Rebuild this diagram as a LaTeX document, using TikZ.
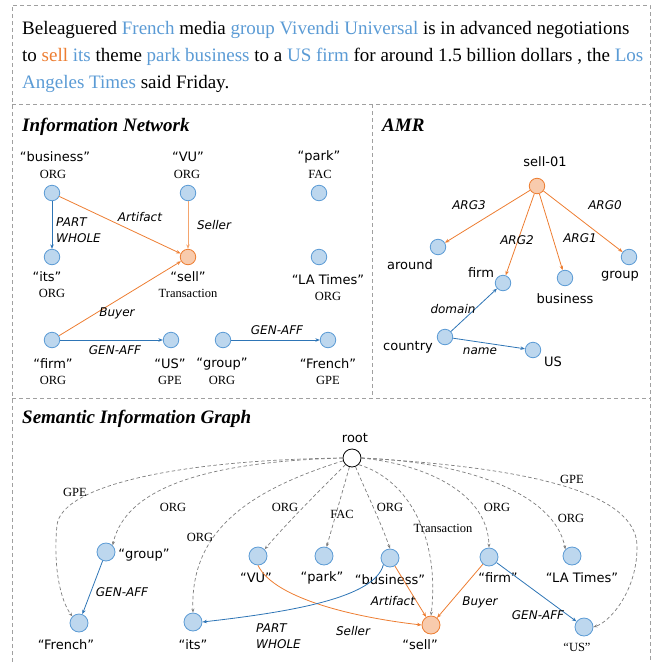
\documentclass[tikz,border=0pt]{standalone}
\usepackage{fontspec}
\setmainfont{Liberation Serif}
\setsansfont{DejaVu Sans}
\usetikzlibrary{arrows.meta}
\definecolor{entline}{RGB}{91,155,213}
\definecolor{entfill}{RGB}{189,215,238}
\definecolor{relblue}{RGB}{46,117,182}
\definecolor{evtline}{RGB}{237,125,49}
\definecolor{evtfill}{RGB}{248,203,173}
\definecolor{sellpeach}{RGB}{244,165,110}
\definecolor{depgray}{RGB}{125,125,125}
\definecolor{framegray}{RGB}{160,160,160}
\definecolor{wordblue}{RGB}{91,155,213}
\begin{document}
\begin{tikzpicture}[x=1pt,y=-1pt,
  ent/.style={circle,draw=entline,fill=entfill,line width=0.8pt,minimum size=15.5pt,inner sep=0pt},
  evt/.style={ent,draw=evtline,fill=evtfill},
  big/.style={minimum size=18pt},
  nl/.style={font=\sffamily\fontsize{13}{15}\selectfont,inner sep=0pt},
  tl/.style={font=\fontsize{12.5}{14}\selectfont,inner sep=0pt},
  el/.style={font=\sffamily\itshape\fontsize{12}{16}\selectfont,inner sep=0pt},
  hd/.style={font=\bfseries\itshape\fontsize{19}{22}\selectfont,anchor=base west,inner sep=0pt},
  sent/.style={font=\fontsize{19}{22}\selectfont,anchor=base west,inner sep=0pt},
  rel/.style={draw=relblue,line width=0.8pt,-{Stealth[length=4.5pt,width=3.5pt]}},
  arg/.style={rel,draw=evtline},
  dep/.style={draw=depgray,line width=0.7pt,dash pattern=on 3.5pt off 2.5pt,-{Stealth[length=4pt,width=3pt]}},
  frame/.style={draw=framegray,line width=0.8pt,dash pattern=on 4pt off 3pt}]
  \useasboundingbox (0,0) rectangle (656,662);
  % frames
  \draw[frame] (12,662) -- (12,5) -- (650,5) -- (650,662);
  \draw[frame] (12,104) -- (650,104);
  \draw[frame] (12,398) -- (650,398);
  \draw[frame] (372,104) -- (372,398);
  % sentence
  \node[sent] (sentA) at (22,34) {Beleaguered \textcolor{wordblue}{French} media \textcolor{wordblue}{group Vivendi Universal} is in advanced negotiations};
  \node[sent] (sentB) at (22,61) {to \textcolor{evtline}{sell} \textcolor{wordblue}{its} theme \textcolor{wordblue}{park business} to a \textcolor{wordblue}{US firm} for around 1.5 billion dollars , the \textcolor{wordblue}{Los}};
  \node[sent] (sentC) at (22,88) {\textcolor{wordblue}{Angeles Times} said Friday.};

  % information network
  \node[hd] (inHead) at (22,131) {Information Network};
  \node[ent] (inBus) at (52,193) {};
  \node[ent] (inVU) at (188,193) {};
  \node[ent] (inPark) at (319,193) {};
  \node[ent] (inIts) at (52,257) {};
  \node[evt] (inSell) at (188,257) {};
  \node[ent] (inLA) at (319,257) {};
  \node[ent] (inFirm) at (52,340) {};
  \node[ent] (inUS) at (171,340) {};
  \node[ent] (inGroup) at (223,340) {};
  \node[ent] (inFrench) at (328,340) {};
  \node[nl] (inBusT) at (55,157) {“business”};
  \node[tl] (inBusC) at (53,174) {ORG};
  \node[nl] (inVUT) at (188,157) {“VU”};
  \node[tl] (inVUC) at (187,174) {ORG};
  \node[nl] (inParkT) at (319,157) {“park”};
  \node[tl] (inParkC) at (320,174) {FAC};
  \node[nl] (inItsT) at (47,277) {“its”};
  \node[tl] (inItsC) at (52,293) {ORG};
  \node[nl] (inSellT) at (188,277) {“sell”};
  \node[tl] (inSellC) at (188,293) {Transaction};
  \node[nl] (inLAT) at (328,280) {“LA Times”};
  \node[tl] (inLAC) at (328,296) {ORG};
  \node[nl] (inFirmT) at (53,364) {“firm”};
  \node[tl] (inFirmC) at (53,380) {ORG};
  \node[nl] (inUST) at (170,364) {“US”};
  \node[tl] (inUSC) at (170,380) {GPE};
  \node[nl] (inGroupT) at (222,364) {“group”};
  \node[tl] (inGroupC) at (222,380) {ORG};
  \node[nl] (inFrenchT) at (328,364) {“French”};
  \node[tl] (inFrenchC) at (328,380) {GPE};
  \draw[rel] (inBus) -- (inIts);
  \draw[arg] (inBus) -- (inSell);
  \draw[arg,draw=sellpeach] (inVU) -- (inSell);
  \draw[arg] (inFirm) -- (inSell);
  \draw[rel] (inFirm) -- (inUS);
  \draw[rel] (inGroup) -- (inFrench);
  \node[el,align=left,anchor=west] (inPW) at (56,230) {PART\\WHOLE};
  \node[el] (inArt) at (140,217) {Artifact};
  \node[el] (inSeller) at (214,225) {Seller};
  \node[el] (inBuyer) at (117,313) {Buyer};
  \node[el] (inGA1) at (115,350) {GEN-AFF};
  \node[el] (inGA2) at (277,330) {GEN-AFF};

  % amr
  \node[hd] (amrHead) at (382,131) {AMR};
  \node[evt] (amrSell) at (537,186) {};
  \node[ent] (amrAround) at (438,247) {};
  \node[ent] (amrFirm) at (503,283) {};
  \node[ent] (amrBus) at (565,278) {};
  \node[ent] (amrGroup) at (629,257) {};
  \node[ent] (amrCountry) at (445,337) {};
  \node[ent] (amrUS) at (533,350) {};
  \node[nl] (amrSellT) at (545,162) {sell-01};
  \node[nl] (amrAroundT) at (410,265) {around};
  \node[nl] (amrFirmT) at (481,273) {firm};
  \node[nl] (amrBusT) at (565,299) {business};
  \node[nl] (amrGroupT) at (620,276) {group};
  \node[nl] (amrCountryT) at (408,347) {country};
  \node[nl] (amrUST) at (553,362) {US};
  \draw[arg] (amrSell) -- (amrAround);
  \draw[arg] (amrSell) -- (amrFirm);
  \draw[arg] (amrSell) -- (amrBus);
  \draw[arg] (amrSell) -- (amrGroup);
  \draw[rel] (amrCountry) -- (amrFirm);
  \draw[rel] (amrCountry) -- (amrUS);
  \node[el] (amrA3) at (469,205) {ARG3};
  \node[el] (amrA2) at (517,240) {ARG2};
  \node[el] (amrA1) at (580,238) {ARG1};
  \node[el] (amrA0) at (605,205) {ARG0};
  \node[el] (amrDom) at (453,309) {domain};
  \node[el] (amrName) at (480,351) {name};

  % semantic information graph
  \node[hd] (sigHead) at (22,423) {Semantic Information Graph};
  \node[circle,draw,fill=white,line width=0.8pt,minimum size=18pt,inner sep=0pt] (sigRoot) at (352,458) {};
  \node[ent,big] (sigGroup) at (106,552) {};
  \node[ent,big] (sigFrench) at (79,623) {};
  \node[ent,big] (sigVU) at (258,556) {};
  \node[ent,big] (sigPark) at (324,556) {};
  \node[ent,big] (sigIts) at (193,622) {};
  \node[ent,big] (sigBus) at (390,558) {};
  \node[evt,big] (sigSell) at (431,625) {};
  \node[ent,big] (sigFirm) at (489,557) {};
  \node[ent,big] (sigLA) at (572,556) {};
  \node[ent,big] (sigUS) at (584,627) {};
  \node[nl] (sigRootT) at (355,438) {root};
  \node[nl] (sigGroupT) at (144,555) {“group”};
  \node[nl] (sigFrenchT) at (66,645) {“French”};
  \node[nl] (sigVUT) at (256,578) {“VU”};
  \node[nl] (sigParkT) at (322,578) {“park”};
  \node[nl] (sigItsT) at (193,645) {“its”};
  \node[nl] (sigBusT) at (390,580) {“business”};
  \node[nl] (sigSellT) at (420,645) {“sell”};
  \node[nl] (sigFirmT) at (498,578) {“firm”};
  \node[nl] (sigLAT) at (582,578) {“LA Times”};
  \node[tl] (sigUST) at (577,647) {“US”};
  % type edges
  \draw[dep] (sigRoot.west) .. controls (180,460) and (62,485) .. (57,525) .. controls (53,565) and (60,600) .. (sigFrench.north west);
  \draw[dep] (sigRoot.west) .. controls (200,462) and (125,490) .. (sigGroup.north east);
  \draw[dep] (sigRoot) .. controls (250,490) and (190,530) .. (sigIts.north);
  \draw[dep] (sigRoot) .. controls (320,490) and (285,525) .. (sigVU.north east);
  \draw[dep] (sigRoot) -- (sigPark);
  \draw[dep] (sigRoot) .. controls (365,490) and (380,520) .. (sigBus.north);
  \draw[dep] (sigRoot.south east) .. controls (410,480) and (440,540) .. (sigSell.north);
  \draw[dep] (sigRoot.east) .. controls (430,465) and (488,495) .. (sigFirm.north);
  \draw[dep] (sigRoot.east) .. controls (470,462) and (555,495) .. (sigLA.north west);
  \draw[dep] (sigRoot.east) .. controls (540,468) and (635,495) .. (637,545) .. controls (638,590) and (610,622) .. (sigUS.east);
  \node[tl] (sigGPE1) at (75,492) {GPE};
  \node[tl] (sigORG1) at (173,507) {ORG};
  \node[tl] (sigORG2) at (200,537) {ORG};
  \node[tl] (sigORG3) at (285,507) {ORG};
  \node[tl] (sigFAC) at (342,514) {FAC};
  \node[tl] (sigORG4) at (390,507) {ORG};
  \node[tl] (sigTrans) at (443,528) {Transaction};
  \node[tl] (sigORG5) at (497,507) {ORG};
  \node[tl] (sigORG6) at (571,518) {ORG};
  \node[tl] (sigGPE2) at (572,479) {GPE};
  % relation edges
  \draw[rel] (sigGroup) -- (sigFrench);
  \draw[arg] (sigVU.south) .. controls (275,600) and (360,618) .. (sigSell.west);
  \draw[rel] (sigBus.south west) .. controls (375,598) and (290,612) .. (sigIts.east);
  \draw[arg] (sigBus) -- (sigSell);
  \draw[arg] (sigFirm) -- (sigSell);
  \draw[rel] (sigFirm) -- (sigUS);
  \node[el] (sigGA1) at (122,592) {GEN-AFF};
  \node[el,align=left,anchor=west] (sigPW) at (256,636) {PART\\WHOLE};
  \node[el] (sigSeller) at (353,631) {Seller};
  \node[el] (sigArt) at (393,601) {Artifact};
  \node[el] (sigBuyer) at (480,602) {Buyer};
  \node[el] (sigGA2) at (538,615) {GEN-AFF};
\end{tikzpicture}
\end{document}
